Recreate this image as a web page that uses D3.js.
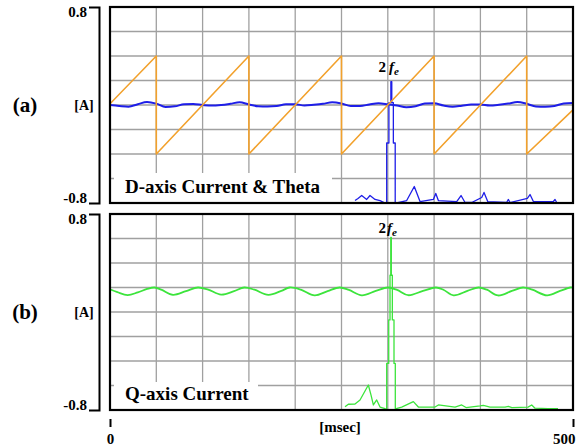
<!DOCTYPE html>
<html>
<head>
<meta charset="utf-8">
<script src="https://cdn.jsdelivr.net/npm/d3@7"></script>
<style>
  body { margin: 0; background: #fff; }
  svg { display: block; font-family: "Liberation Serif", "Times New Roman", serif; font-weight: bold; }
</style>
</head>
<body>
<script>
// axis values
var timeDomain = [0, 500];
var ampDomain = [-0.8, 0.8];
var xTickValues = [0, 500];
var yTickValues = [-0.8, 0.8];
var gridTimes = [0, 50, 100, 150, 200, 250, 300, 350, 400, 450, 500];
var gridAmps = [-0.8, -0.6, -0.4, -0.2, 0, 0.2, 0.4, 0.6, 0.8];

var panelTags = ['(a)', '(b)'];
var panelTitles = ['D-axis Current & Theta', 'Q-axis Current'];

// theta (sawtooth), read at its corners
var thetaT = [0, 50, 50, 150, 150, 250, 250, 350, 350, 450, 450, 500];
var thetaV = [0.01, 0.4, -0.4, 0.4, -0.4, 0.4, -0.4, 0.4, -0.4, 0.4, -0.4, -0.04];

// d-axis current
var idT = [0, 10, 20, 30, 40, 50, 60, 70, 80, 90, 100, 110, 120, 130, 140, 150, 160, 170, 180, 190,
  200, 210, 220, 230, 240, 250, 260, 270, 280, 290, 300, 310, 320, 330, 340, 350, 360, 370, 380, 390,
  400, 410, 420, 430, 440, 450, 460, 470, 480, 490, 500];
var idV = [0, -0.008, -0.014, 0.006, 0.024, 0.011, -0.016, -0.011, 0.006, 0.008, 0, -0.005, 0, 0.01, 0.022,
  0.004, -0.01, -0.012, -0.008, 0.006, 0.006, -0.004, 0.002, 0.01, 0.022, 0.012, -0.008, -0.008, 0.004, 0.014,
  0.006, -0.004, -0.018, -0.01, 0.012, 0.014, -0.004, -0.014, -0.006, 0.004, 0.004, -0.004, 0.002, 0.012, 0.024,
  0.01, -0.012, -0.014, -0.008, 0.012, 0.016];

// d-axis current spectrum
var idSpecT = [264.6, 267.8, 271.8, 277.2, 280.8, 286.2, 291.6, 297,
  298.8, 298.8, 301.2, 301.2, 303.3, 303.3, 304.3, 304.3, 306, 306, 308, 308,
  309.6, 320.4, 328.6, 334.8, 349.2, 351.8, 354.6, 374.4, 379.1, 383.4, 390.6, 401.4, 403.9, 407.9,
  428.3, 430.1, 432, 450.7, 453.6, 457.2, 478.8, 480.6, 482.4];
var idSpecV = [-0.78, -0.763, -0.739, -0.771, -0.739, -0.771, -0.78, -0.8,
  -0.8, -0.31, -0.31, 0.02, 0.02, 0.19, 0.19, 0.02, 0.02, -0.31, -0.31, -0.8,
  -0.8, -0.78, -0.665, -0.788, -0.771, -0.722, -0.78, -0.788, -0.739, -0.796, -0.796, -0.755, -0.714, -0.788,
  -0.796, -0.771, -0.796, -0.763, -0.731, -0.788, -0.788, -0.771, -0.796];

// q-axis current
var iqT = [0, 8, 19, 30, 40, 48, 56, 68, 82, 95, 106, 120, 134, 145, 156, 171, 185, 194, 206, 221,
  235, 248, 258, 272, 287, 300, 310, 322, 338, 352, 360, 371, 386, 398, 407, 419, 434, 446, 456, 472,
  486, 497, 500];
var iqV = [0.185, 0.162, 0.138, 0.16, 0.188, 0.2, 0.18, 0.14, 0.17, 0.2, 0.183, 0.142, 0.17, 0.2, 0.182,
  0.14, 0.172, 0.2, 0.183, 0.136, 0.17, 0.2, 0.18, 0.136, 0.172, 0.2, 0.18, 0.137, 0.172, 0.2, 0.182,
  0.136, 0.172, 0.2, 0.182, 0.135, 0.172, 0.2, 0.182, 0.136, 0.172, 0.2, 0.198];

// q-axis current spectrum
var iqSpecT = [253.8, 257.4, 264.6, 270, 279, 281.9, 284.4, 288, 291.6, 297,
  298.8, 298.8, 301, 301, 302.4, 302.4, 303.2, 303.2, 303.8, 303.8, 304.9, 304.9, 306.7, 306.7, 308.1, 308.1,
  315, 327.6, 333, 351, 354.6, 372.6, 379.8, 384.5, 399.6, 403.2, 410.4, 426.6, 430.2, 434,
  451.4, 455.4, 459, 473, 475.2, 483.8];
var iqSpecV = [-0.773, -0.753, -0.751, -0.718, -0.596, -0.678, -0.759, -0.718, -0.776, -0.788,
  -0.79, -0.42, -0.42, -0.065, -0.065, 0.3, 0.3, 0.61, 0.61, 0.3, 0.3, -0.065, -0.065, -0.42, -0.42, -0.79,
  -0.776, -0.732, -0.776, -0.776, -0.759, -0.776, -0.759, -0.78, -0.767, -0.763, -0.776, -0.776, -0.771, -0.78,
  -0.776, -0.759, -0.785, -0.788, -0.788, -0.788];

(function() {
  var width = 585;
  var height = 448;
  var left = 110;
  var right = 573;
  var orange = '#f2a12c';
  var blue = '#1e1ee8';
  var green = '#3ce43c';
  var glabelT = 290;

  function zip(ts, vs) {
    return ts.map((t, i) => ({ t: t, v: vs[i] }));
  }

  var svg = d3.select('body')
    .append('svg')
    .attr('width', width)
    .attr('height', height);

  var xScale = d3.scaleLinear().domain(timeDomain).range([left, right]);

  function drawPanel(idx, top, bottom, series, titleBox) {
    var yScale = d3.scaleLinear().domain(ampDomain).range([bottom, top]);
    var g = svg.append('g');

    // grid
    g.selectAll('line.gx')
      .data(gridTimes)
      .enter()
      .append('line')
      .attr('x1', d => xScale(d))
      .attr('x2', d => xScale(d))
      .attr('y1', top)
      .attr('y2', bottom)
      .attr('stroke', '#a0a0a0')
      .attr('stroke-width', 1.3);

    g.selectAll('line.gy')
      .data(gridAmps)
      .enter()
      .append('line')
      .attr('x1', left)
      .attr('x2', right)
      .attr('y1', d => yScale(d))
      .attr('y2', d => yScale(d))
      .attr('stroke', '#a0a0a0')
      .attr('stroke-width', 1.3);

    // title box covers the grid
    g.append('rect')
      .attr('x', left + 4)
      .attr('y', titleBox.y)
      .attr('width', titleBox.w)
      .attr('height', bottom - titleBox.y)
      .attr('fill', '#fff');

    g.append('text')
      .attr('x', left + 15)
      .attr('y', titleBox.base)
      .attr('font-size', 19)
      .text(panelTitles[idx]);

    svg.append('clipPath')
      .attr('id', 'clip' + idx)
      .append('rect')
      .attr('x', left)
      .attr('y', top)
      .attr('width', right - left)
      .attr('height', bottom - top);

    series.forEach(s => {
      var line = d3.line()
        .x(d => xScale(d.t))
        .y(d => yScale(d.v))
        .curve(s.curve || d3.curveLinear);
      g.append('path')
        .datum(s.data)
        .attr('d', line)
        .attr('fill', 'none')
        .attr('stroke', s.color)
        .attr('stroke-width', s.width)
        .attr('stroke-linejoin', 'round')
        .attr('clip-path', 'url(#clip' + idx + ')');
    });

    // 2fe label
    var lab = g.append('text')
      .attr('x', xScale(glabelT))
      .attr('y', idx === 0 ? 72 : 233)
      .attr('font-size', 15);
    lab.append('tspan').text('2');
    lab.append('tspan').attr('dx', idx === 0 ? 3 : 1).attr('font-style', 'italic').text('f');
    lab.append('tspan').attr('font-style', 'italic').attr('font-size', 11).attr('dy', 3).text('e');

    // frame
    g.append('rect')
      .attr('x', left)
      .attr('y', top)
      .attr('width', right - left)
      .attr('height', bottom - top)
      .attr('fill', 'none')
      .attr('stroke', '#000')
      .attr('stroke-width', 2.2);

    // bracket axis on the left
    var yAxis = d3.axisLeft(yScale)
      .tickValues(yTickValues)
      .tickSizeInner(0)
      .tickSizeOuter(10)
      .tickPadding(12)
      .tickFormat(d => d.toFixed(1));
    var ax = svg.append('g')
      .attr('transform', `translate(${left - 11}, 0)`)
      .call(yAxis);
    ax.select('.domain').attr('stroke-width', 2);
    ax.selectAll('text')
      .attr('font-size', 15)
      .attr('font-family', '"Liberation Serif", serif')
      .attr('font-weight', 'bold')
      .attr('fill', '#000')
      .attr('dy', d => (d > 0 ? '0.6em' : '-0.02em'));

    svg.append('text')
      .attr('x', 84)
      .attr('y', yScale(0))
      .attr('dy', '0.35em')
      .attr('text-anchor', 'middle')
      .attr('font-size', 14)
      .text('[A]');

    svg.append('text')
      .attr('x', 25)
      .attr('y', yScale(0))
      .attr('dy', '0.35em')
      .attr('text-anchor', 'middle')
      .attr('font-size', 21)
      .text(panelTags[idx]);
  }

  drawPanel(0, 7, 203, [
    { data: zip(idSpecT, idSpecV), color: blue, width: 1.3 },
    { data: zip(idT, idV), color: blue, width: 2, curve: d3.curveMonotoneX },
    { data: zip(thetaT, thetaV), color: orange, width: 1.6 }
  ], { y: 173, w: 218, base: 193 });

  drawPanel(1, 214, 410, [
    { data: zip(iqSpecT, iqSpecV), color: green, width: 1.3 },
    { data: zip(iqT, iqV), color: green, width: 1.8, curve: d3.curveCatmullRom }
  ], { y: 382, w: 144, base: 400 });

  // time axis
  var xAxis = d3.axisBottom(xScale)
    .tickValues(xTickValues)
    .tickSize(8)
    .tickPadding(6);
  var xg = svg.append('g')
    .attr('transform', 'translate(0, 419)')
    .call(xAxis);
  xg.select('.domain').remove();
  xg.selectAll('line').attr('stroke-width', 2);
  xg.selectAll('text')
    .attr('font-size', 15)
    .attr('font-family', '"Liberation Serif", serif')
    .attr('font-weight', 'bold')
    .attr('fill', '#000')
    .attr('text-anchor', d => (d === 500 ? 'end' : 'middle'))
    .attr('dx', d => (d === 500 ? 2 : 0));

  svg.append('text')
    .attr('x', 340)
    .attr('y', 432)
    .attr('text-anchor', 'middle')
    .attr('font-size', 15)
    .text('[msec]');
})();
</script>
</body>
</html>
